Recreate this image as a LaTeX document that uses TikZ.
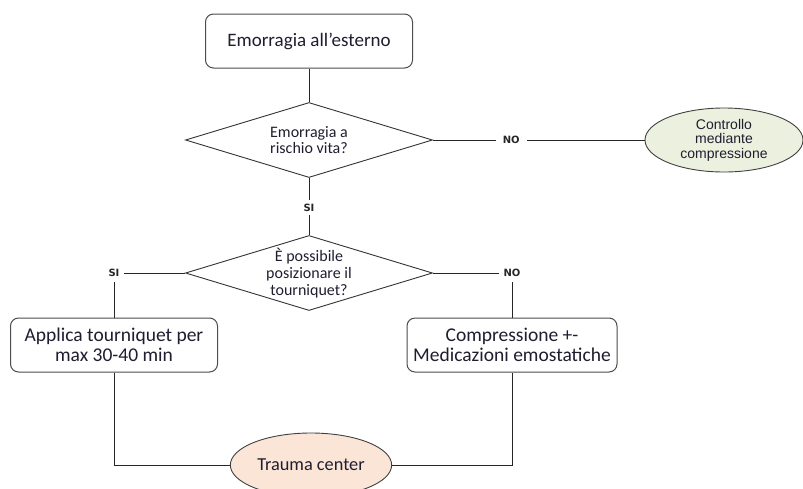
\documentclass[tikz,border=0pt]{standalone}
\usepackage{fontspec}
\setmainfont{Carlito}
\newfontfamily\arialfont{Liberation Sans}
\newfontfamily\etichetta{DejaVu Sans}
\usetikzlibrary{shapes.geometric}
\definecolor{verdino}{HTML}{EBF1DE}
\definecolor{pesca}{HTML}{FBE5D6}
\definecolor{inchiostro}{HTML}{1E1E30}

\begin{document}
\begin{tikzpicture}[x=1pt, y=-1pt,
    every node/.style={text=inchiostro},
    box/.style={draw=black!70, rounded corners=8pt, line width=1pt, fill=white,
        align=center, minimum width=207pt, minimum height=54pt,
        font=\fontsize{19.5}{19.5}\selectfont},
    scelta/.style={diamond, draw=black!80, line width=0.9pt, inner sep=0pt,
        minimum width=247pt, minimum height=75pt},
    testo/.style={align=center, font=\fontsize{16}{16}\selectfont},
    fine/.style={ellipse, draw=black!75, line width=0.9pt, align=center},
    scritta/.style={fill=white, inner sep=5pt, text=black!85,
        font=\etichetta\fontsize{10}{10}\selectfont\bfseries},
    linea/.style={draw=black!85, line width=0.9pt}]
    \useasboundingbox (0,0) rectangle (803,488);

    % Start
    \node[box, font=\fontsize{19}{19}\selectfont] (inizio) at (309,41) {Emorragia all’esterno};

    % Decisions
    \node[scelta, label={[testo]center:{Emorragia a\\rischio vita?}}] (rischio) at (309,140) {};
    \node[scelta, label={[testo, font=\fontsize{16}{17}\selectfont]center:{È possibile\\posizionare il\\tourniquet?}}] (posiz) at (309,273) {};

    % Outcomes
    \node[fine, fill=verdino, minimum width=158pt, minimum height=64pt, inner sep=0pt,
        font=\arialfont\fontsize{14}{14.5}\selectfont] (controllo) at (724,140)
        {Controllo\\mediante\\compressione};
    \node[box] (laccio) at (114,345) {Applica tourniquet per\\max 30-40 min};
    \node[box, minimum width=210pt] (compr) at (512,345) {Compressione +-\\Medicazioni emostatiche};
    \node[fine, fill=pesca, minimum width=157pt, minimum height=64pt,
        font=\fontsize{18.3}{18}\selectfont] (trauma) at (311,465) {Trauma center};

    % Connectors
    \draw[linea] (inizio.south) -- (rischio.north);
    \draw[linea] (rischio.east) -- (controllo.west) node[scritta, inner xsep=7pt, pos=0.37] (no1) {NO};
    \draw[linea] (rischio.south) -- (posiz.north) node[scritta, inner ysep=4pt, pos=0.52] (si1) {SI};
    \draw[linea] (posiz.west) -| (laccio.north) node[scritta, pos=0.5] (si2) {SI};
    \draw[linea] (posiz.east) -| (compr.north) node[scritta, pos=0.5] (no2) {NO};
    \draw[linea] (laccio.south) |- (trauma.west);
    \draw[linea] (compr.south) |- (trauma.east);
\end{tikzpicture}
\end{document}
